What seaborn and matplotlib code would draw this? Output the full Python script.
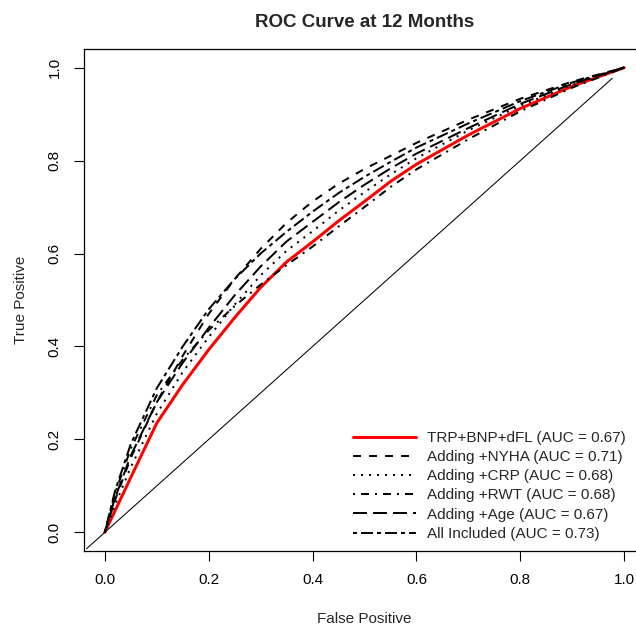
import matplotlib

matplotlib.use("Agg")
import matplotlib.pyplot as plt
import pandas as pd
import seaborn as sns

# values
fpr = [0, 0.02, 0.05, 0.1, 0.15, 0.2, 0.25, 0.3, 0.35, 0.4, 0.45, 0.5, 0.55, 0.6, 0.7, 0.8, 0.9, 1.0]
tpr_base = [0, 0.047, 0.118, 0.235, 0.318, 0.393, 0.462, 0.527, 0.582, 0.625, 0.67, 0.712, 0.755, 0.792, 0.855, 0.912, 0.96, 1.0]
tpr_nyha = [0, 0.07, 0.16, 0.28, 0.38, 0.47, 0.545, 0.61, 0.666, 0.712, 0.75, 0.782, 0.81, 0.838, 0.888, 0.933, 0.97, 1.0]
tpr_crp = [0, 0.06, 0.14, 0.255, 0.345, 0.42, 0.49, 0.553, 0.606, 0.648, 0.692, 0.732, 0.77, 0.805, 0.865, 0.918, 0.963, 1.0]
tpr_rwt = [0, 0.085, 0.18, 0.295, 0.372, 0.435, 0.487, 0.533, 0.575, 0.615, 0.658, 0.7, 0.743, 0.781, 0.846, 0.906, 0.957, 1.0]
tpr_age = [0, 0.075, 0.165, 0.28, 0.365, 0.44, 0.51, 0.572, 0.626, 0.668, 0.71, 0.748, 0.783, 0.815, 0.87, 0.922, 0.965, 1.0]
tpr_all = [0, 0.09, 0.19, 0.31, 0.40, 0.48, 0.545, 0.60, 0.647, 0.69, 0.73, 0.765, 0.797, 0.828, 0.88, 0.928, 0.968, 1.0]

labels = [
    "TRP+BNP+dFL (AUC = 0.67)",
    "Adding +NYHA (AUC = 0.71)",
    "Adding +CRP (AUC = 0.68)",
    "Adding +RWT (AUC = 0.68)",
    "Adding +Age (AUC = 0.67)",
    "All Included (AUC = 0.73)",
]
series = [tpr_base, tpr_nyha, tpr_crp, tpr_rwt, tpr_age, tpr_all]
diagonal = [-0.035, 0.977]
ticks = [0.0, 0.2, 0.4, 0.6, 0.8, 1.0]

# R-like line types (on/off in units of line width)
styles = [
    "-",
    (0, (4, 4)),
    (0, (1, 3)),
    (0, (1, 3, 4, 3)),
    (0, (7, 3)),
    (0, (2, 2, 6, 2)),
]
colors = ["#ff0000"] + ["black"] * 5
widths = [2.16] + [1.44] * 5

sns.set_theme(style="ticks")
plt.rcParams["font.family"] = ["Liberation Sans", "DejaVu Sans"]

frame = pd.DataFrame(
    [(f, t, lab) for lab, ys in zip(labels, series) for f, t in zip(fpr, ys)],
    columns=["fpr", "tpr", "model"],
)

fig = plt.figure(figsize=(6.36, 6.27), dpi=100)
ax = fig.add_axes([84 / 636, 76 / 627, 561 / 636, 502 / 627])

ax.plot(diagonal, diagonal, color="black", linewidth=0.75)
for lab, ls, col, lw in zip(labels, styles, colors, widths):
    sub = frame[frame.model == lab]
    sns.lineplot(data=sub, x="fpr", y="tpr", color=col, linewidth=lw,
                 linestyle=ls, label=lab, ax=ax, estimator=None)

ax.set_xlim(-0.04, 1.04)
ax.set_ylim(-0.04, 1.04)
ax.set_xticks(ticks)
ax.set_yticks(ticks)
ax.set_xticklabels([f"{t:.1f}" for t in ticks])
ax.set_yticklabels([f"{t:.1f}" for t in ticks], rotation=90, va="center")
ax.tick_params(direction="out", length=7, width=0.8, color="black",
               labelsize=11, pad=9, labelcolor="black")
for spine in ax.spines.values():
    spine.set_visible(True)
    spine.set_color("black")
    spine.set_linewidth(0.9)
ax.set_xlabel("False Positive", fontsize=11, labelpad=18)
ax.set_ylabel("True Positive", fontsize=11, labelpad=14)
ax.set_title("ROC Curve at 12 Months", fontsize=13.5, fontweight="bold", pad=16)

ax.legend(loc="lower right", bbox_to_anchor=(632 / 636, (627 - 547) / 627),
          bbox_transform=fig.transFigure, frameon=False, fontsize=11,
          handlelength=4.1, handletextpad=0.75, labelspacing=0.34,
          borderaxespad=0)

fig.savefig("out.png", dpi=100, facecolor="white")
